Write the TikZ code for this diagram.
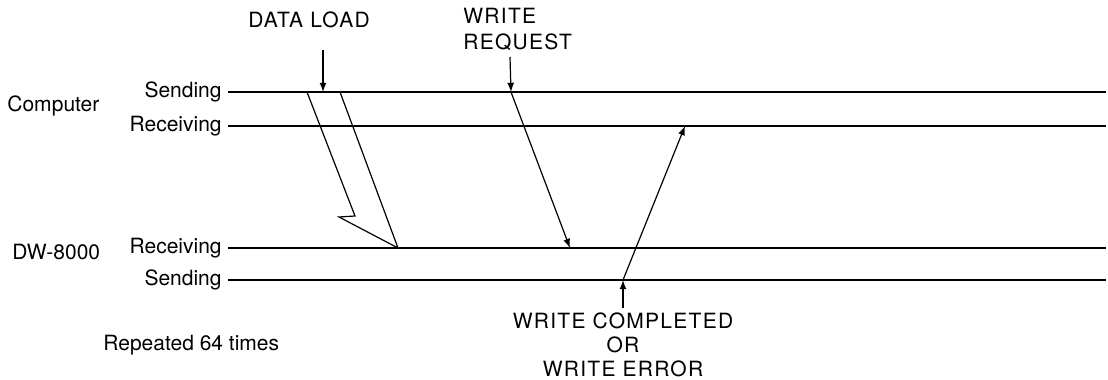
\documentclass[tikz,border=0pt]{standalone}
\usepackage{fontspec}
\setmainfont{TeX Gyre Heros}
\newfontfamily\capsfont[LetterSpace=6]{TeX Gyre Heros}
\tikzset{>=latex}

\begin{document}
\begin{tikzpicture}[x=0.5pt,y=-0.5pt,font=\fontsize{10.5}{13}\selectfont]
    \tikzstyle{track}=[line width=1.1pt];
    \tikzstyle{msg}=[line width=0.6pt];
    \tikzstyle{side}=[anchor=east,inner sep=0pt,xshift=-3pt];
    \tikzstyle{note}=[inner sep=0pt];
    \useasboundingbox (0,0) rectangle (1108,380);
    % the four lines
    \foreach \y/\t/\n in {92/Sending/cs,126/Receiving/cr,248/Receiving/dr,280/Sending/ds}{
      \coordinate (\n0) at (228,\y);
      \coordinate (\n1) at (1106,\y);
      \draw[track] (\n0) -- (\n1);
      \node[side] (\n l) at (\n0) {\t};
    }
    \node[note,anchor=west] (comp) at (7,106) {Computer};
    \node[note,anchor=west] (dw) at (12,252) {DW-8000};
    \node[note,anchor=west] (rep) at (103,345) {Repeated 64 times};
    % data load
    \node[note,font=\capsfont\fontsize{10.5}{13}\selectfont] (dl) at (309,20) {DATA LOAD};
    \coordinate (dltop) at (323,50);
    \coordinate (dlin) at (323,92);
    \draw[->,msg] (dltop) -- (dlin);
    \coordinate (a1) at (307,92);
    \coordinate (a2) at (355,216);
    \coordinate (a3) at (339,217);
    \coordinate (a4) at (398,248);
    \coordinate (a5) at (340,92);
    \draw[msg] (a1) -- (a2) -- (a3) -- (a4) -- (a5);
    % write request
    \node[note,anchor=west,align=left,font=\capsfont\fontsize{10.5}{13}\selectfont] (wr) at (463,29) {WRITE\\REQUEST};
    \coordinate (wrtop) at (510,57);
    \coordinate (wrin) at (511,92);
    \coordinate (wrout) at (570,248);
    \draw[->,msg] (wrtop) -- (wrin);
    \draw[->,msg] (wrin) -- (wrout);
    % answer
    \node[note,align=center,font=\capsfont\fontsize{10.5}{12}\selectfont] (wc) at (623,345) {WRITE COMPLETED\\OR\\WRITE ERROR};
    \coordinate (wcbot) at (623,308);
    \coordinate (wcin) at (623,280);
    \coordinate (wcout) at (685,126);
    \draw[->,msg] (wcbot) -- (wcin);
    \draw[->,msg] (wcin) -- (wcout);
\end{tikzpicture}
\end{document}
